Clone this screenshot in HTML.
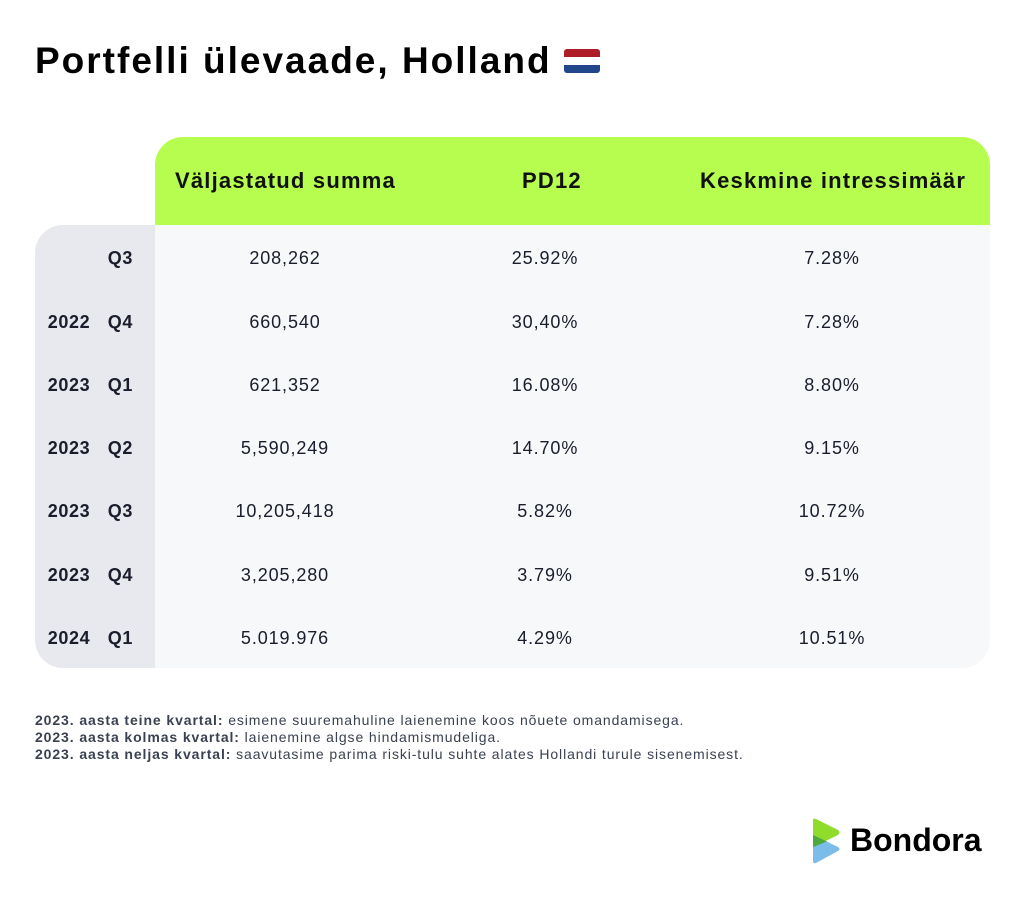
<!DOCTYPE html>
<html><head><meta charset="utf-8"><style>
body{margin:0;width:1024px;height:905px;background:#fff;font-family:"Liberation Sans",sans-serif;color:#1a1d2b;position:relative;overflow:hidden}
.abs{position:absolute}
h1{position:absolute;left:35px;top:40px;margin:0;font-size:37px;font-weight:bold;color:#000;letter-spacing:2px;white-space:nowrap}
.hdr{left:155px;top:137px;width:835px;height:88px;background:#b6fd50;border-radius:28px 28px 0 0}
.body{left:35px;top:225px;width:955px;height:443px;background:#f7f8fa;border-radius:28px 0 28px 28px;overflow:hidden}
.lab{left:35px;top:225px;width:120px;height:443px;background:#e8e9ee;border-radius:28px 0 0 28px}
.h{top:168px;font-size:22px;font-weight:bold;color:#111;letter-spacing:1.2px;white-space:nowrap}
.cell{font-size:18px;letter-spacing:0.9px;transform:translateX(-50%);white-space:nowrap}
.rl{font-size:18px;font-weight:bold;right:891px;white-space:nowrap;word-spacing:12px;letter-spacing:0.6px}
.fn{left:35px;font-size:14px;letter-spacing:0.9px;color:#3a4150;white-space:nowrap}
.fn b{color:#3a4150}
</style></head><body>
<h1>Portfelli ülevaade, Holland<span style="display:inline-block;width:36px;height:24px;vertical-align:0px;border-radius:3px;overflow:hidden;margin-left:12px"><span style="display:block;height:8px;background:#ae1c28"></span><span style="display:block;height:8px;background:#fff"></span><span style="display:block;height:8px;background:#21468b"></span></span></h1>
<div class="abs hdr"></div>
<div class="abs body"></div>
<div class="abs lab"></div>
<div class="abs h" style="left:175px">Väljastatud summa</div>
<div class="abs h" style="left:522px">PD12</div>
<div class="abs h" style="left:700px">Keskmine intressimäär</div>

<div class="abs rl" style="top:248px;">Q3</div>
<div class="abs rl" style="top:312px;">2022 Q4</div>
<div class="abs rl" style="top:375px;">2023 Q1</div>
<div class="abs rl" style="top:438px;">2023 Q2</div>
<div class="abs rl" style="top:501px;">2023 Q3</div>
<div class="abs rl" style="top:565px;">2023 Q4</div>
<div class="abs rl" style="top:628px;">2024 Q1</div>

<div class="abs cell" style="left:285px;top:248px">208,262</div>
<div class="abs cell" style="left:285px;top:312px">660,540</div>
<div class="abs cell" style="left:285px;top:375px">621,352</div>
<div class="abs cell" style="left:285px;top:438px">5,590,249</div>
<div class="abs cell" style="left:285px;top:501px">10,205,418</div>
<div class="abs cell" style="left:285px;top:565px">3,205,280</div>
<div class="abs cell" style="left:285px;top:628px">5.019.976</div>

<div class="abs cell" style="left:545px;top:248px">25.92%</div>
<div class="abs cell" style="left:545px;top:312px">30,40%</div>
<div class="abs cell" style="left:545px;top:375px">16.08%</div>
<div class="abs cell" style="left:545px;top:438px">14.70%</div>
<div class="abs cell" style="left:545px;top:501px">5.82%</div>
<div class="abs cell" style="left:545px;top:565px">3.79%</div>
<div class="abs cell" style="left:545px;top:628px">4.29%</div>

<div class="abs cell" style="left:832px;top:248px">7.28%</div>
<div class="abs cell" style="left:832px;top:312px">7.28%</div>
<div class="abs cell" style="left:832px;top:375px">8.80%</div>
<div class="abs cell" style="left:832px;top:438px">9.15%</div>
<div class="abs cell" style="left:832px;top:501px">10.72%</div>
<div class="abs cell" style="left:832px;top:565px">9.51%</div>
<div class="abs cell" style="left:832px;top:628px">10.51%</div>

<div class="abs fn" style="top:712px"><b>2023. aasta teine kvartal:</b> esimene suuremahuline laienemine koos nõuete omandamisega.</div>
<div class="abs fn" style="top:729px"><b>2023. aasta kolmas kvartal:</b> laienemine algse hindamismudeliga.</div>
<div class="abs fn" style="top:746px"><b>2023. aasta neljas kvartal:</b> saavutasime parima riski-tulu suhte alates Hollandi turule sisenemisest.</div>

<svg class="abs" style="left:810px;top:818px" width="32" height="46" viewBox="0 0 32 46">
<path d="M3 2 Q3 0 6 1 L28 12 Q31 14 28 17 L3 29 Z" fill="#8fdc2a"/>
<path d="M3 17 L28 29 Q31 31 28 33 L6 45 Q3 46 3 43 Z" fill="#7bbde8"/>
<path d="M3 17 L17 23.5 L3 29 Z" fill="#4ea83a"/>
</svg>
<div class="abs" style="left:850px;top:822px;font-size:32px;font-weight:bold;color:#000;letter-spacing:0px">Bondora</div>
</body></html>
